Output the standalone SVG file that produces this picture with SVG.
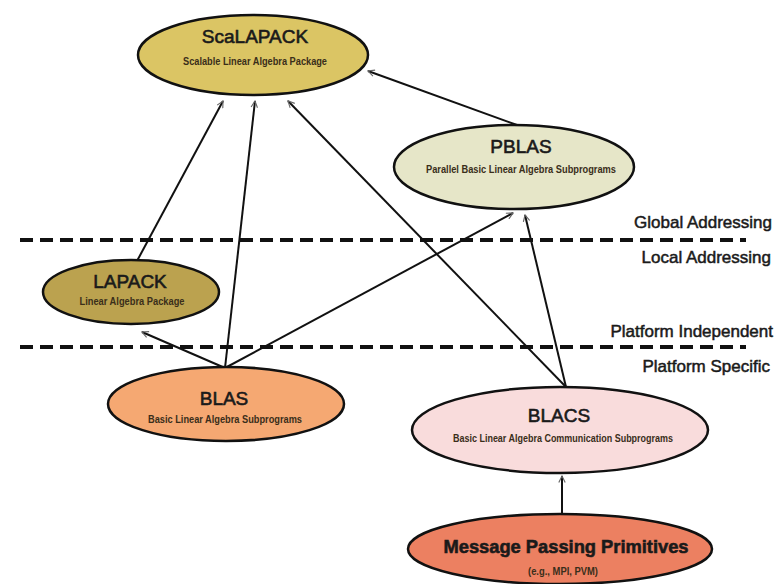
<svg xmlns="http://www.w3.org/2000/svg" width="780" height="584" viewBox="0 0 780 584">
<defs>
<marker id="arr" viewBox="0 0 10 10" refX="9" refY="5" markerWidth="8" markerHeight="8" markerUnits="userSpaceOnUse" orient="auto">
<path d="M1,1 L9,5 L1,9" fill="none" stroke="#666" stroke-width="1.4"/>
</marker>
<style>
.node ellipse{stroke:#111;stroke-width:2.5}
.t{font-family:"Liberation Sans","DejaVu Sans",sans-serif;font-size:19px;fill:#1a1a1a;stroke:#1a1a1a;stroke-width:0.6;text-anchor:middle}
.s{font-family:"Liberation Sans","DejaVu Sans",sans-serif;font-size:11px;font-weight:bold;fill:#3a2e1a;text-anchor:middle}
.lbl{font-family:"Liberation Sans","DejaVu Sans",sans-serif;font-size:17px;fill:#1a1a1a;stroke:#1a1a1a;stroke-width:0.5;text-anchor:end}
.edge{stroke:#111;stroke-width:2;fill:none;marker-end:url(#arr)}
.dash{stroke:#111;stroke-width:4;stroke-dasharray:13 7;fill:none}
</style>
</defs>
<rect width="780" height="584" fill="#ffffff"/>

<g id="dividers">
<line class="dash" x1="20" y1="240" x2="746" y2="240"/>
<line class="dash" x1="20" y1="347" x2="746" y2="347"/>
<text class="lbl" x="772" y="228">Global Addressing</text>
<text class="lbl" x="771" y="263">Local Addressing</text>
<text class="lbl" x="773" y="337">Platform Independent</text>
<text class="lbl" x="770" y="372">Platform Specific</text>
</g>

<g id="connectors">
<line class="edge" x1="137" y1="261" x2="223" y2="101"/>
<line class="edge" x1="225" y1="368" x2="255" y2="101"/>
<line class="edge" x1="566" y1="387" x2="288" y2="101"/>
<line class="edge" x1="517" y1="125" x2="368" y2="71"/>
<line class="edge" x1="225" y1="368" x2="142" y2="332"/>
<line class="edge" x1="225" y1="368" x2="513" y2="213"/>
<line class="edge" x1="566" y1="387" x2="525" y2="215"/>
<line class="edge" x1="562" y1="514" x2="562" y2="476"/>
</g>

<g id="scalapack" class="node">
<ellipse cx="253" cy="55" rx="115" ry="40" fill="#DBC564"/>
<text class="t" x="255" y="43" font-size="20">ScaLAPACK</text>
<text class="s" x="255" y="65" textLength="144" lengthAdjust="spacingAndGlyphs">Scalable Linear Algebra Package</text>
</g>

<g id="pblas" class="node">
<ellipse cx="514" cy="167" rx="120" ry="42" fill="#E6E6C8"/>
<text class="t" x="521" y="153">PBLAS</text>
<text class="s" x="521" y="173" textLength="190" lengthAdjust="spacingAndGlyphs">Parallel Basic Linear Algebra Subprograms</text>
</g>

<g id="lapack" class="node">
<ellipse cx="131" cy="292" rx="88" ry="32" fill="#BBA24F"/>
<text class="t" x="130" y="288">LAPACK</text>
<text class="s" x="132" y="305" textLength="105" lengthAdjust="spacingAndGlyphs">Linear Algebra Package</text>
</g>

<g id="blas" class="node">
<ellipse cx="226" cy="404" rx="118" ry="37" fill="#F5A872"/>
<text class="t" x="224" y="405">BLAS</text>
<text class="s" x="225" y="423" textLength="154" lengthAdjust="spacingAndGlyphs">Basic Linear Algebra Subprograms</text>
</g>

<g id="blacs" class="node">
<ellipse cx="560" cy="430" rx="148" ry="43" fill="#F9DCDC"/>
<text class="t" x="559" y="422">BLACS</text>
<text class="s" x="563" y="442" textLength="220" lengthAdjust="spacingAndGlyphs">Basic Linear Algebra Communication Subprograms</text>
</g>

<g id="mpp" class="node">
<ellipse cx="560" cy="549" rx="152" ry="35" fill="#EC8061"/>
<text class="t" x="566" y="553" font-size="21" font-weight="bold" stroke-width="0.3" textLength="245" lengthAdjust="spacingAndGlyphs">Message Passing Primitives</text>
<text class="s" x="563" y="575" textLength="70" lengthAdjust="spacingAndGlyphs">(e.g., MPI, PVM)</text>
</g>
</svg>
